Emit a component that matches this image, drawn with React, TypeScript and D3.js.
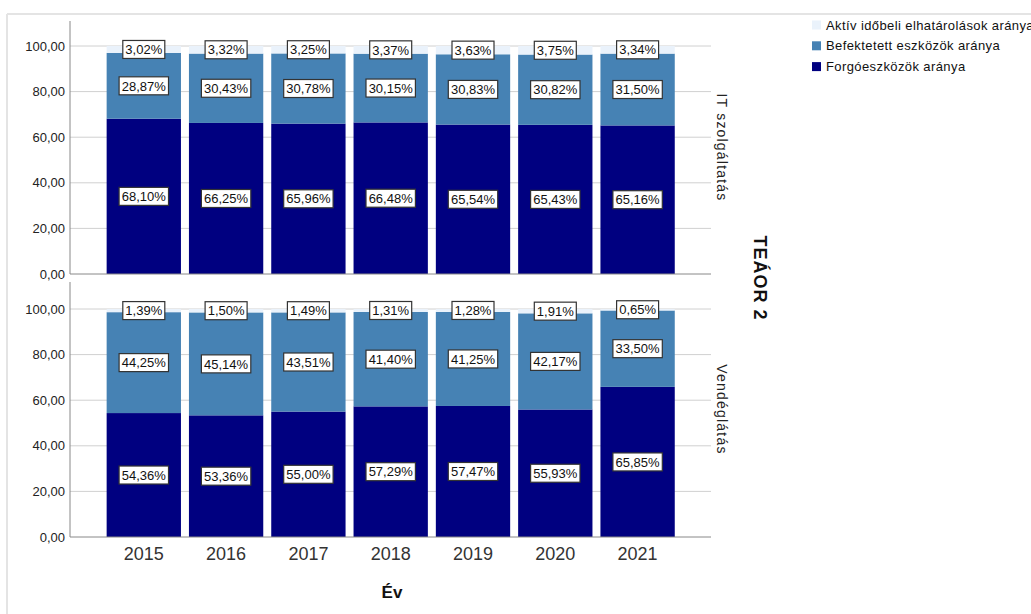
import React from "react";
import * as d3 from "d3";

const years = ["2015", "2016", "2017", "2018", "2019", "2020", "2021"];
const panels = ["IT szolgáltatás", "Vendéglátás"];
const seriesNames = ["Forgóeszközök aránya", "Befektetett eszközök aránya", "Aktív időbeli elhatárolások aránya"];
const seriesColors = ["#000080", "#4682b4", "#eaf2fb"];

const itForgo = [68.10, 66.25, 65.96, 66.48, 65.54, 65.43, 65.16];
const itBefekt = [28.87, 30.43, 30.78, 30.15, 30.83, 30.82, 31.50];
const itAktiv = [3.02, 3.32, 3.25, 3.37, 3.63, 3.75, 3.34];

const vForgo = [54.36, 53.36, 55.00, 57.29, 57.47, 55.93, 65.85];
const vBefekt = [44.25, 45.14, 43.51, 41.40, 41.25, 42.17, 33.50];
const vAktiv = [1.39, 1.50, 1.49, 1.31, 1.28, 1.91, 0.65];

const yTicks = [0, 20, 40, 60, 80, 100];

const panelData = [
  [itForgo, itBefekt, itAktiv],
  [vForgo, vBefekt, vAktiv],
];

const fmt = (v: number) => v.toFixed(2).replace(".", ",");
const FONT = "Arial, 'Liberation Sans', sans-serif";

export default function App() {
  const x = d3
    .scaleBand<string>()
    .domain(years)
    .range([102.65, 678.75])
    .paddingInner(0.097)
    .paddingOuter(0.0485);
  const panelGeom = [
    { top: 21, y0: 274, y100: 46 },
    { top: 282, y0: 537, y100: 309 },
  ];
  const axisX = 70;
  const gridEnd = 711;

  return (
    <div style={{ position: "absolute", left: 0, top: 0 }}>
      <svg width={1031} height={614} style={{ display: "block", fontFamily: FONT }}>
        <rect x={0} y={0} width={1031} height={614} fill="#fff" />
        {/* frame */}
        <line x1={7} x2={1031} y1={14} y2={14} stroke="#e4e4e4" strokeWidth={2} />
        <line x1={7} x2={7} y1={14} y2={614} stroke="#e4e4e4" strokeWidth={2} />

        {panelGeom.map((g, pi) => {
          const y = d3.scaleLinear().domain([0, 100]).range([g.y0, g.y100]);
          const data = panelData[pi];
          return (
            <g key={pi}>
              {yTicks.map((t) => (
                <g key={t}>
                  {t > 0 && (
                    <line x1={axisX} x2={gridEnd} y1={y(t)} y2={y(t)} stroke="#d0d0d0" strokeWidth={1} />
                  )}
                  <text x={65} y={y(t)} dy="0.35em" textAnchor="end" fontSize={13} fill="#222">
                    {fmt(t)}
                  </text>
                </g>
              ))}
              {years.map((yr, i) => {
                let cum = 0;
                return (
                  <g key={yr}>
                    {data.map((s, si) => {
                      const v0 = cum;
                      const v1 = cum + s[i];
                      cum = v1;
                      return (
                        <rect
                          key={si}
                          x={x(yr)}
                          width={x.bandwidth()}
                          y={y(v1)}
                          height={y(v0) - y(v1)}
                          fill={seriesColors[si]}
                        />
                      );
                    })}
                  </g>
                );
              })}
              <line x1={axisX} x2={axisX} y1={g.top} y2={g.y0} stroke="#888" strokeWidth={1} />
              <line x1={axisX} x2={gridEnd} y1={g.y0} y2={g.y0} stroke="#888" strokeWidth={1} />
              {years.map((yr, i) => {
                let cum = 0;
                return (
                  <g key={"l" + yr}>
                    {data.map((s, si) => {
                      const v0 = cum;
                      const v1 = cum + s[i];
                      cum = v1;
                      const cy = y((v0 + v1) / 2);
                      const cx = (x(yr) as number) + x.bandwidth() / 2;
                      const label = fmt(s[i]) + "%";
                      const w = label.length * 7.4 + 5;
                      return (
                        <g key={si}>
                          <rect x={cx - w / 2} y={cy - 9} width={w} height={18} fill="#fff" stroke="#333" strokeWidth={1.2} />
                          <text x={cx} y={cy} dy="0.36em" textAnchor="middle" fontSize={13} fill="#111">
                            {label}
                          </text>
                        </g>
                      );
                    })}
                  </g>
                );
              })}
              <text
                transform={`translate(${722},${(g.top + g.y0) / 2}) rotate(90)`}
                textAnchor="middle"
                dy="0.35em"
                fontSize={14}
                letterSpacing={1.2}
                fill="#222"
              >
                {panels[pi]}
              </text>
            </g>
          );
        })}

        {years.map((yr) => (
          <text
            key={"x" + yr}
            x={(x(yr) as number) + x.bandwidth() / 2}
            y={554}
            dy="0.35em"
            textAnchor="middle"
            fontSize={18}
            fill="#333"
          >
            {yr}
          </text>
        ))}
        <text x={392} y={592} dy="0.35em" textAnchor="middle" fontSize={17} fontWeight="bold" fill="#111">
          Év
        </text>
        <text
          transform={`translate(${760},${278}) rotate(90)`}
          textAnchor="middle"
          dy="0.35em"
          fontSize={18}
          letterSpacing={1}
          fontWeight="bold"
          fill="#111"
        >
          TEÁOR 2
        </text>

        {/* legend */}
        {[2, 1, 0].map((si, k) => (
          <g key={"lg" + si} transform={`translate(812,${25 + k * 20.8})`}>
            <rect x={0} y={-4.5} width={9} height={9} fill={seriesColors[si]} />
            <text x={14} y={0} dy="0.35em" fontSize={13} fill="#111" letterSpacing={0.4}>
              {seriesNames[si]}
            </text>
          </g>
        ))}
      </svg>
    </div>
  );
}
